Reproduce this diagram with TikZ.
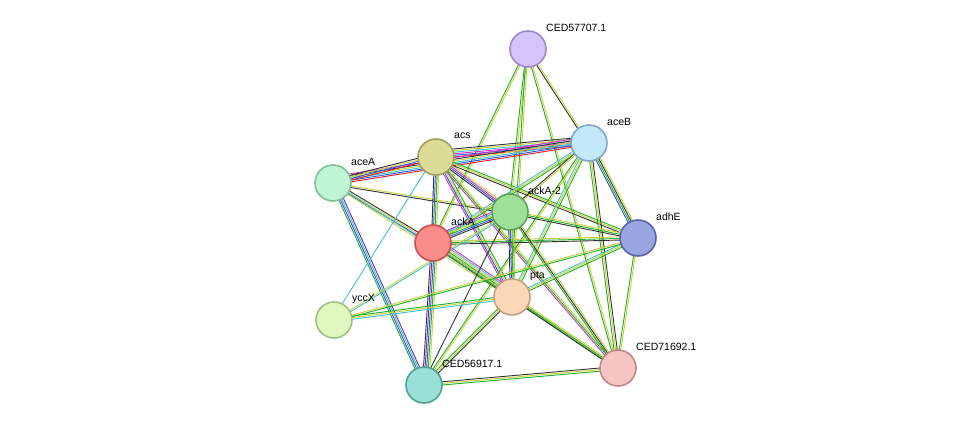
\documentclass[tikz,border=0pt]{standalone}
\usepackage{fontspec}
\setmainfont{Liberation Sans}
\usetikzlibrary{calc}
\definecolor{qk}{HTML}{333333}
\definecolor{qy}{HTML}{C8D040}
\definecolor{qg}{HTML}{20B020}
\definecolor{qb}{HTML}{3050E0}
\definecolor{qc}{HTML}{40C0D0}
\definecolor{qm}{HTML}{D030D0}
\definecolor{qr}{HTML}{E02020}
\definecolor{qp}{HTML}{7030A0}
\newcommand\edg[3]{\foreach \c [count=\i] in {#3} {\pgfmathsetmacro\dd{(\i-1)*1.6-1.6}\draw[draw=\c, line width=0.9pt] ($(#1)!\dd pt!90:(#2)$) -- ($(#2)!\dd pt!-90:(#1)$);}}
\tikzset{prot/.style={circle, minimum size=36pt, inner sep=0pt, line width=1.6pt},
 lab/.style={anchor=west, font=\fontsize{10.5}{10.5}\selectfont, inner sep=1pt}}
\begin{document}
\begin{tikzpicture}[x=1pt,y=-1pt]
\useasboundingbox (0,0) rectangle (975,431);
\foreach \n/\x/\y in {n1/528/49, aceB/589/143, acs/436/157, aceA/333/183, ack2/510/212, adhE/638/238, ackA/433/243, pta/512/297, yccX/334/320, n2/424/385, n3/618/368}
  \coordinate (\n) at (\x,\y);
\edg{n1}{aceB}{qk,qy}
\edg{n1}{ack2}{qg,qy}
\edg{n1}{pta}{qg,qy}
\edg{n1}{ackA}{qg,qy}
\edg{n1}{n3}{qg,qy}
\edg{acs}{aceB}{qr,qb,qm,qc,qy,qk}
\edg{aceA}{aceB}{qr,qb,qc,qy,qk,qm}
\edg{aceA}{acs}{qr,qb,qy,qk}
\edg{aceA}{ackA}{qb,qy,qk}
\edg{aceA}{ack2}{qk,qy}
\edg{aceA}{n2}{qg,qb,qc,qp}
\edg{aceA}{pta}{qy,qc}
\edg{acs}{ackA}{qk,qb,qg,qy}
\edg{acs}{ack2}{qk,qb,qm,qy}
\edg{acs}{pta}{qm,qb,qy,qg}
\edg{acs}{n3}{qm,qg,qy}
\edg{acs}{adhE}{qk,qy,qg}
\edg{acs}{yccX}{qc}
\edg{aceB}{ack2}{qk,qy}
\edg{aceB}{ackA}{qc,qy,qg}
\edg{aceB}{pta}{qc,qy,qg}
\edg{aceB}{adhE}{qb,qg,qk,qy}
\edg{aceB}{n3}{qg,qy,qk}
\edg{aceB}{n2}{qg,qy}
\edg{ackA}{ack2}{qk,qb,qg,qy,qc,qm}
\edg{ackA}{adhE}{qk,qg,qy}
\edg{ackA}{pta}{qk,qb,qg,qy,qc,qm}
\edg{ackA}{n2}{qk,qp,qb,qg,qy}
\edg{ackA}{n3}{qg,qy}
\edg{yccX}{ack2}{qc,qy}
\edg{ack2}{adhE}{qk,qg,qy}
\edg{ack2}{pta}{qk,qb,qg,qy}
\edg{ack2}{n3}{qg,qk,qy}
\edg{ack2}{n2}{qk}
\edg{pta}{adhE}{qg,qy,qc}
\edg{pta}{n3}{qk,qg,qy}
\edg{pta}{n2}{qg,qy,qk}
\edg{pta}{yccX}{qg,qy,qc}
\edg{yccX}{adhE}{qg,qy}
\edg{adhE}{n3}{qg,qy}
\edg{n2}{n3}{qg,qy,qk}
\foreach \n/\f/\s/\t in {n1/D4C4FB/9F88CC/CED57707.1, aceB/C2E8FA/7AAAC4/aceB, acs/DCDC96/A0A060/acs, aceA/BFF5D4/80C098/aceA, ack2/9EE09A/60A060/ackA-2, adhE/9AA4E0/5A64A8/adhE, ackA/FA8C8C/C85050/ackA, pta/FCD8B8/C8A080/pta, yccX/E0F8C0/A0C080/yccX, n2/98E0D8/50A098/CED56917.1, n3/F8C4C4/C08888/CED71692.1}{
  \definecolor{fc}{HTML}{\f}\definecolor{sc}{HTML}{\s}
  \node[prot, fill=fc, draw=sc] (\n-c) at (\n) {};
  \node[lab] (\n-l) at ($(\n)+(17,-21)$) {\t};
}
\end{tikzpicture}
\end{document}
